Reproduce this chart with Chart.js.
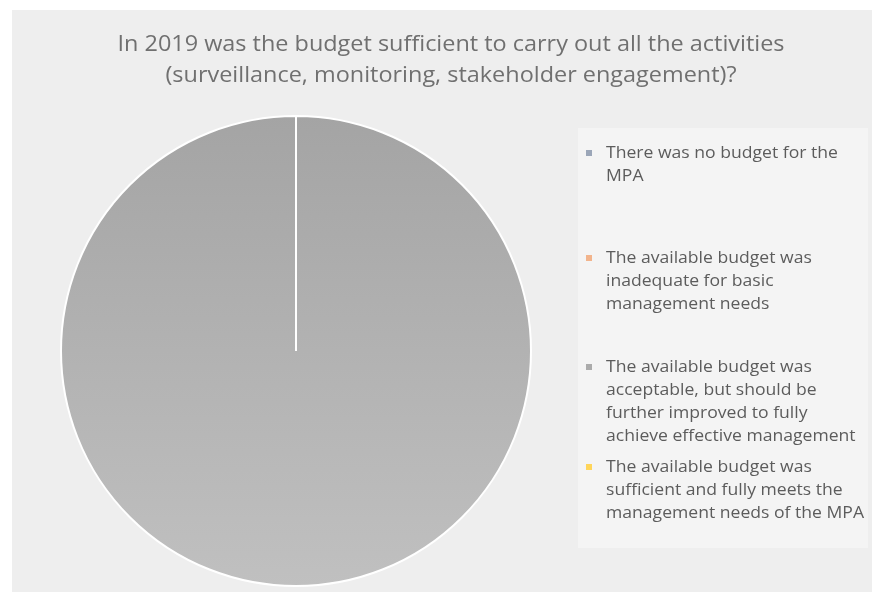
<!DOCTYPE html>
<html>
<head>
<meta charset="utf-8">
<script src="https://cdn.jsdelivr.net/npm/chart.js@4.4.1/dist/chart.umd.min.js"></script>
<style>
  html, body { margin: 0; padding: 0; background: #fff; }
  #wrap { width: 877px; height: 600px; }
</style>
</head>
<body>
<div id="wrap"><canvas id="chart" width="877" height="600"></canvas></div>
<script>
const titleLines = [
    'In 2019 was the budget sufficient to carry out all the activities',
    '(surveillance, monitoring, stakeholder engagement)?'
];

const categories = [
    ['There was no budget for the', 'MPA'],
    ['The available budget was', 'inadequate for basic', 'management needs'],
    ['The available budget was', 'acceptable, but should be', 'further improved to fully', 'achieve effective management'],
    ['The available budget was', 'sufficient and fully meets the', 'management needs of the MPA']
];

const shares = [0, 0, 100, 0];

const sliceColors = ['#9ba6b8', '#f2b48c', '#ababab', '#ffd55a'];

// layout only
const legendTops = [153, 258, 367, 467];
const legendLine = 23;
const titleWidth = 667;   // width of the first title line in the picture
const legendWidth = 258;  // width of the widest legend line

const sliceFill = (c) => {
    const chart = c.chart;
    if (c.dataIndex !== 2 || !chart.chartArea) return sliceColors[c.dataIndex];
    const g = chart.ctx.createLinearGradient(0, chart.chartArea.top, 0, chart.chartArea.bottom);
    g.addColorStop(0, '#a4a4a4');
    g.addColorStop(1, '#c0c0c0');
    return g;
};

function stretchedText(ctx, text, x, y, sx) {
    ctx.save();
    ctx.translate(x, y);
    ctx.scale(sx, 1);
    ctx.fillText(text, 0, 0);
    ctx.restore();
}

const frame = {
    id: 'frame',
    beforeDraw(chart) {
        const ctx = chart.ctx;
        ctx.save();
        ctx.fillStyle = '#ffffff';
        ctx.fillRect(0, 0, chart.width, chart.height);
        ctx.fillStyle = '#eeeeee';
        ctx.fillRect(12, 10, 860, 582);
        ctx.fillStyle = '#f4f4f4';
        ctx.fillRect(578, 128, 290, 420);
        ctx.restore();
    },
    afterDraw(chart) {
        const ctx = chart.ctx;
        ctx.save();
        ctx.textAlign = 'center';
        ctx.textBaseline = 'middle';
        ctx.fillStyle = '#707070';
        ctx.font = '21px "Open Sans"';
        const tsx = titleWidth / ctx.measureText(titleLines[0]).width;
        titleLines.forEach((line, i) => stretchedText(ctx, line, 451, 45 + i * 31, tsx));

        ctx.textAlign = 'left';
        ctx.font = '16px "Open Sans"';
        const widest = Math.max(...chart.data.labels.flat().map(t => ctx.measureText(t).width));
        const lsx = legendWidth / widest;
        chart.data.labels.forEach((lines, i) => {
            const top = legendTops[i];
            ctx.fillStyle = sliceColors[i];
            ctx.fillRect(586, top - 3, 6, 6);
            ctx.fillStyle = '#5c5c5c';
            lines.forEach((line, j) => stretchedText(ctx, line, 606, top + j * legendLine, lsx));
        });
        ctx.restore();
    }
};

new Chart(document.getElementById('chart'), {
    type: 'pie',
    data: {
        labels: categories,
        datasets: [{
            data: shares,
            backgroundColor: sliceFill,
            borderColor: '#ffffff',
            borderWidth: 2
        }]
    },
    options: {
        responsive: false,
        animation: false,
        devicePixelRatio: 1,
        layout: {
            padding: { left: 60, top: 115, right: 345, bottom: 13 }
        },
        plugins: {
            legend: { display: false },
            title: { display: false },
            tooltip: { enabled: false }
        }
    },
    plugins: [frame]
});
</script>
</body>
</html>
